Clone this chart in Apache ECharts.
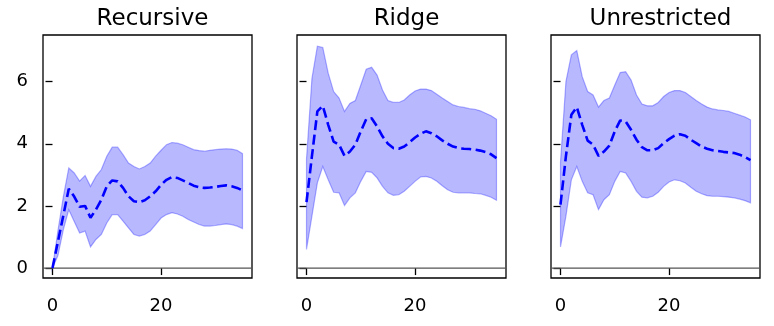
<!DOCTYPE html>
<html>
<head>
<meta charset="utf-8">
<script src="https://cdn.jsdelivr.net/npm/echarts@6/dist/echarts.min.js"></script>
<style>
html,body{margin:0;padding:0;background:#fff;}
#chart{width:774px;height:326px;}
</style>
</head>
<body>
<div id="chart"></div>
<script>
// ---- data ----
var panelTitles = ["Recursive", "Ridge", "Unrestricted"];
var horizons = [0,1,2,3,4,5,6,7,8,9,10,11,12,13,14,15,16,17,18,19,20,21,22,23,24,25,26,27,28,29,30,31,32,33,34,35];
var xTicks = [0, 20];
var yTicks = [0, 2, 4, 6];
var referenceLevel = 0;

var recursiveMean = [0,0.85,1.7,2.55,2.3,1.97,2.0,1.62,1.88,2.2,2.63,2.82,2.79,2.58,2.31,2.15,2.12,2.18,2.31,2.47,2.68,2.84,2.93,2.9,2.82,2.74,2.65,2.6,2.58,2.59,2.61,2.64,2.66,2.63,2.58,2.5];
var recursiveUpper = [0,1.2,2.3,3.22,3.06,2.8,2.98,2.63,2.95,3.17,3.6,3.89,3.89,3.65,3.38,3.27,3.19,3.27,3.38,3.6,3.79,3.97,4.04,4.02,3.97,3.89,3.81,3.78,3.76,3.79,3.81,3.83,3.84,3.83,3.79,3.68];
var recursiveLower = [0,0.4,1.24,1.88,1.5,1.13,1.19,0.68,0.92,1.08,1.45,1.72,1.72,1.51,1.29,1.08,1.03,1.08,1.19,1.4,1.61,1.72,1.78,1.74,1.67,1.56,1.48,1.4,1.35,1.35,1.37,1.4,1.42,1.4,1.35,1.27];

var ridgeMean = [2.12,3.6,5.04,5.22,4.61,4.07,3.97,3.61,3.75,3.97,4.4,4.79,4.82,4.56,4.24,4.0,3.86,3.84,3.91,4.05,4.2,4.32,4.4,4.34,4.24,4.11,4.0,3.91,3.86,3.84,3.83,3.81,3.78,3.73,3.66,3.54];
var ridgeUpper = [3.5,6.1,7.14,7.1,6.27,5.68,5.47,5.04,5.3,5.39,5.89,6.4,6.46,6.21,5.73,5.39,5.33,5.33,5.41,5.57,5.7,5.76,5.76,5.71,5.59,5.47,5.36,5.25,5.2,5.17,5.13,5.11,5.06,4.98,4.9,4.79];
var ridgeLower = [0.6,1.67,2.74,3.27,2.84,2.44,2.42,2.01,2.26,2.42,2.79,3.11,3.08,2.9,2.63,2.42,2.34,2.36,2.47,2.63,2.79,2.93,2.95,2.9,2.79,2.65,2.52,2.44,2.42,2.42,2.42,2.4,2.39,2.34,2.28,2.18];

var unrestrictedMean = [2.04,3.6,4.93,5.18,4.61,4.1,3.97,3.61,3.75,3.94,4.4,4.75,4.72,4.45,4.13,3.89,3.79,3.79,3.86,4.02,4.15,4.26,4.31,4.26,4.13,4.02,3.91,3.84,3.79,3.77,3.74,3.72,3.7,3.65,3.57,3.47];
var unrestrictedUpper = [3.4,6.0,6.86,7.0,6.16,5.68,5.57,5.18,5.39,5.47,5.89,6.29,6.32,6.05,5.57,5.28,5.22,5.22,5.33,5.52,5.65,5.71,5.71,5.65,5.52,5.39,5.28,5.18,5.12,5.09,5.07,5.04,4.98,4.92,4.86,4.77];
var unrestrictedLower = [0.68,1.67,2.84,3.27,2.79,2.42,2.36,1.88,2.2,2.36,2.79,3.11,3.06,2.79,2.47,2.28,2.26,2.31,2.44,2.63,2.77,2.84,2.81,2.74,2.6,2.47,2.39,2.33,2.31,2.31,2.3,2.28,2.26,2.22,2.17,2.1];

var panels = [
  {mean: recursiveMean, upper: recursiveUpper, lower: recursiveLower},
  {mean: ridgeMean, upper: ridgeUpper, lower: ridgeLower},
  {mean: unrestrictedMean, upper: unrestrictedUpper, lower: unrestrictedLower}
];

// ---- layout ----
var FONT = "DejaVu Sans";
var gridLefts = [43, 297, 551];
var gridWidth = 209;
var gridTop = 35;
var gridHeight = 243;

function bandRenderer(p) {
  return function (params, api) {
    if (params.dataIndex !== 0) return null;
    var cs = params.coordSys;
    var y0 = api.coord([0, referenceLevel])[1];
    var pts = [];
    for (var k = 0; k < horizons.length; k++) pts.push(api.coord([horizons[k], p.upper[k]]));
    for (var k2 = horizons.length - 1; k2 >= 0; k2--) pts.push(api.coord([horizons[k2], p.lower[k2]]));
    return {
      type: "group",
      children: [
        {type: "line", shape: {x1: cs.x, y1: y0, x2: cs.x + cs.width, y2: y0},
          style: {stroke: "#555", lineWidth: 1.2}},
        {type: "polygon", shape: {points: pts},
          style: {fill: "rgba(0,0,255,0.28)", stroke: "rgba(0,0,255,0.3)", lineWidth: 1.2}}
      ]
    };
  };
}

var grids = [], xAxes = [], yAxes = [], series = [], titles = [];
panels.forEach(function (p, i) {
  grids.push({left: gridLefts[i], top: gridTop, width: gridWidth, height: gridHeight,
    show: true, borderColor: "#000", borderWidth: 1.3, backgroundColor: "#fff"});
  titles.push({text: panelTitles[i], left: gridLefts[i] + gridWidth / 2, top: 3, textAlign: "center",
    textStyle: {fontFamily: FONT, fontSize: 23, fontWeight: "normal", color: "#000"}});
  xAxes.push({type: "value", gridIndex: i, min: -1.75, max: 36.75,
    axisLine: {show: false}, splitLine: {show: false},
    axisTick: {show: true, length: 7, lineStyle: {color: "#000", width: 1.3}, customValues: xTicks},
    axisLabel: {show: true, customValues: xTicks, margin: 19, fontFamily: FONT, fontSize: 18, color: "#000"}});
  yAxes.push({type: "value", gridIndex: i, min: -0.32, max: 7.5,
    axisLine: {show: false}, splitLine: {show: false},
    axisTick: {show: true, length: 7, lineStyle: {color: "#000", width: 1.3}, customValues: yTicks},
    axisLabel: {show: i === 0, customValues: yTicks, margin: 15, fontFamily: FONT, fontSize: 18, color: "#000"}});
  var bandData = horizons.map(function (h, k) { return [h, p.lower[k], p.upper[k]]; });
  var meanData = horizons.map(function (h, k) { return [h, p.mean[k]]; });
  series.push({type: "custom", xAxisIndex: i, yAxisIndex: i, data: bandData,
    encode: {x: 0, y: [1, 2]}, renderItem: bandRenderer(p), silent: true, animation: false, z: 2});
  series.push({type: "line", xAxisIndex: i, yAxisIndex: i, data: meanData,
    symbol: "none", silent: true, animation: false, z: 5,
    lineStyle: {color: "#0000ff", width: 2.6, type: [10, 4.5]}});
});

var chart = echarts.init(document.getElementById("chart"), null, {renderer: "canvas"});
chart.setOption({
  animation: false,
  backgroundColor: "#fff",
  title: titles,
  grid: grids,
  xAxis: xAxes,
  yAxis: yAxes,
  series: series
});
</script>
</body>
</html>
